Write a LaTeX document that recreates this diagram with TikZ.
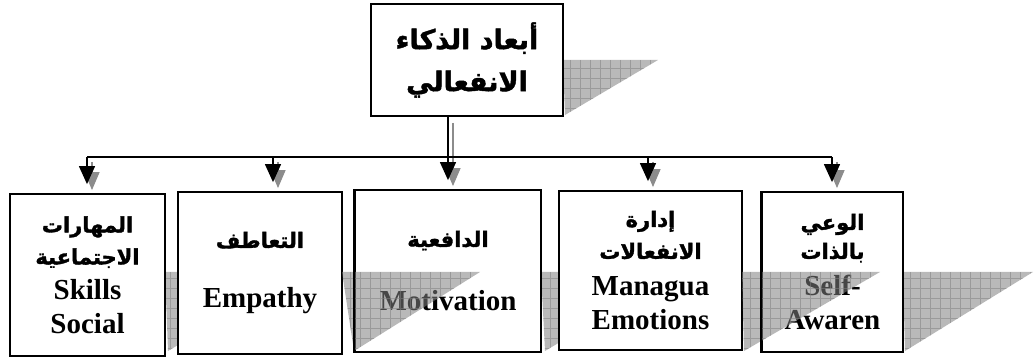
\documentclass[tikz,border=0pt]{standalone}
\usepackage{fontspec}
\setmainfont{Liberation Serif}
\newfontfamily\arabicfont[Script=Arabic,BoldFont={DejaVu Sans Bold},BoldFeatures={FakeBold=1.6}]{DejaVu Sans}
\TeXXeTstate=1
\usetikzlibrary{arrows.meta}

\newcommand{\ar}[2][21]{{\arabicfont\bfseries\fontsize{#1}{34}\selectfont\beginR #2\endR}}
% gray wedge shadow: x1 x2 x3 ytop ybot
\newcommand{\wedgeshadow}[5]{%
  \fill[shadefill] (#1,#4) -- (#2,#4) -- (#3,#5) -- cycle;
  \begin{scope}
    \clip (#1,#4) -- (#2,#4) -- (#3,#5) -- cycle;
    \draw[shadegrid, step=10pt] (#1,#5) grid (#2,#4);
  \end{scope}}

\begin{document}
\begin{tikzpicture}[x=1pt,y=1pt,
  box/.style={draw, line width=1.8pt, fill=white, align=center, inner sep=0pt,
    font=\fontsize{29}{34}\selectfont\bfseries},
  link/.style={line width=1.3pt},
  arr/.style={link, -{Triangle[length=18pt,width=16pt]}, shorten >=9pt},
  shadarr/.style={link, black!45, -{Triangle[length=18pt,width=15pt]}, shorten >=3pt},
  shadefill/.style={fill=black!50, fill opacity=0.55},
  shadegrid/.style={draw=black!50, draw opacity=0.55, line width=0.8pt}]
\useasboundingbox (0,0) rectangle (1034,358);

% shadows lying behind the boxes
\wedgeshadow{563}{658}{565}{298}{243}
\wedgeshadow{165}{300}{168}{86}{7}
\wedgeshadow{541}{678}{545}{86}{7}
\wedgeshadow{903}{1033}{905}{86}{7}

% boxes
\node[box, minimum width=192pt, minimum height=112pt] (dims) at (467,298)
  {\ar[27]{أبعاد الذكاء}\\[8pt]\ar[27]{الانفعالي}};
\node[box, minimum width=155pt, minimum height=162pt] (social) at (87.5,83)
  {\ar{المهارات}\\[-2pt]\ar{الاجتماعية}\\[1pt]Skills\\Social};
\node[box, minimum width=164pt, minimum height=162pt] (empathy) at (260,85)
  {\ar{التعاطف}\\[26pt]Empathy};
\node[box, minimum width=186pt, minimum height=162pt] (motiv) at (448,87)
  {\ar{الدافعية}\\[30pt]Motivation};
\node[box, minimum width=183pt, minimum height=159pt] (manage) at (650.5,87.5)
  {\ar{إدارة}\\[-2pt]\ar{الانفعالات}\\[3pt]Managua\\Emotions};
\node[box, minimum width=141pt, minimum height=160pt] (self) at (832.5,86)
  {\ar{الوعي}\\[-5pt]\ar{بالذات}\\[3pt]Self-\\Awaren};

% shadows lying over the next box
\wedgeshadow{342}{480}{354}{86}{7}
\wedgeshadow{742}{880}{744}{86}{7}
\draw[line width=1.8pt] (motiv.south west) -- (motiv.north west);
\draw[line width=1.8pt] (self.south west) -- (self.north west);

% connectors
\coordinate (bus-s) at (87,201);
\coordinate (bus-e) at (273,201);
\coordinate (bus-m) at (448,201);
\coordinate (bus-g) at (648,201);
\coordinate (bus-a) at (832,201);

\draw[shadarr] ([shift={(5pt,34pt)}]bus-m) -- ([xshift=5pt]bus-m |- motiv.north);
\foreach \b/\n in {s/social, e/empathy, g/manage, a/self}
  \draw[shadarr] ([shift={(5pt,-5pt)}]bus-\b) -- ([xshift=5pt]bus-\b |- \n.north);

\draw[link] (bus-s) -- (bus-a);
\draw[arr] ([xshift=-19pt]dims.south) -- (motiv.north);
\foreach \b/\n in {s/social, e/empathy, g/manage, a/self}
  \draw[arr] (bus-\b) -- (bus-\b |- \n.north);
\end{tikzpicture}
\end{document}
